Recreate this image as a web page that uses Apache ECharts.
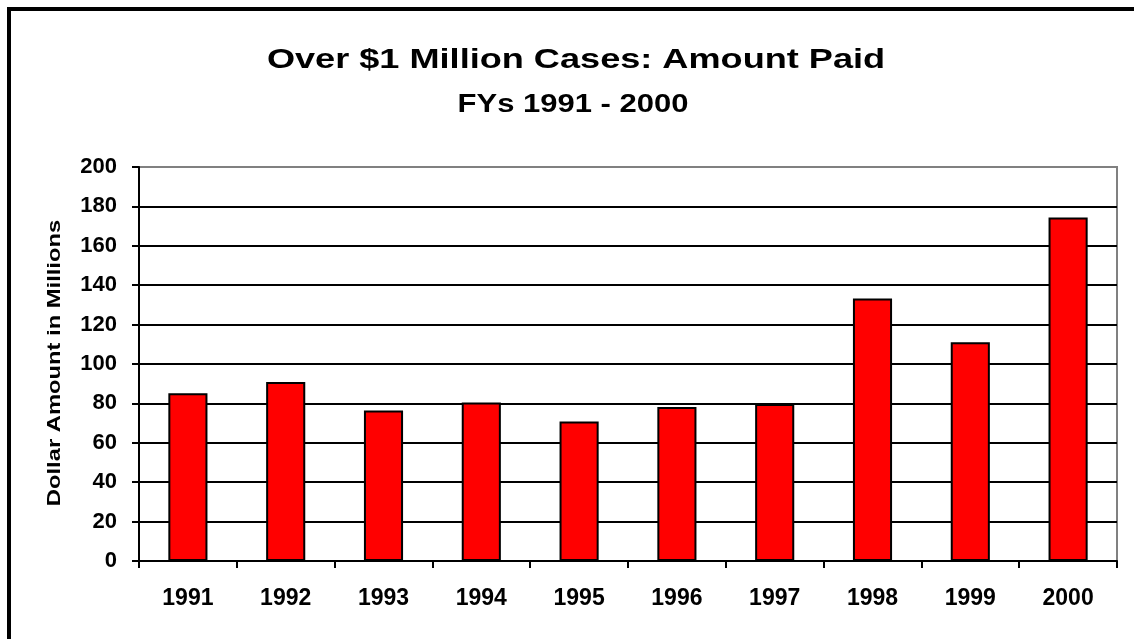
<!DOCTYPE html>
<html>
<head>
<meta charset="utf-8">
<script src="https://cdn.jsdelivr.net/npm/echarts@6/dist/echarts.min.js"></script>
<style>
html,body{margin:0;padding:0;background:#fff;}
#chart{width:1134px;height:639px;}
</style>
</head>
<body>
<div id="chart"></div>
<script>
var categories = ['1991','1992','1993','1994','1995','1996','1997','1998','1999','2000'];
var amountPaid = [85.2, 90.9, 76.4, 80.4, 70.8, 78.2, 79.7, 133.2, 111.0, 174.4];
var titleText = 'Over $1 Million Cases: Amount Paid';
var subtitleText = 'FYs 1991 - 2000';
var yAxisName = 'Dollar Amount in Millions';

var font = 'Arial, "Liberation Sans", sans-serif';
var chart = echarts.init(document.getElementById('chart'));
chart.setOption({
  animation: false,
  backgroundColor: '#fff',
  graphic: [{
    type: 'rect', z: 100, silent: true,
    shape: { x: 9, y: 9, width: 1200, height: 700 },
    style: { fill: 'none', stroke: '#000', lineWidth: 4 }
  }, {
    type: 'text', x: 576, y: 60, scaleX: 1.29, z: 100,
    style: { text: titleText, x: 0, y: 0, textAlign: 'center', textVerticalAlign: 'middle',
      font: 'bold 28px Arial, "Liberation Sans", sans-serif', fill: '#000' }
  }, {
    type: 'text', x: 573, y: 105, scaleX: 1.24, z: 100,
    style: { text: subtitleText, x: 0, y: 0, textAlign: 'center', textVerticalAlign: 'middle',
      font: 'bold 25px Arial, "Liberation Sans", sans-serif', fill: '#000' }
  }, {
    type: 'text', x: 55, y: 363, rotation: Math.PI / 2, scaleX: 1.25, z: 100,
    style: { text: yAxisName, x: 0, y: 0, textAlign: 'center', textVerticalAlign: 'middle',
      font: 'bold 19px Arial, "Liberation Sans", sans-serif', fill: '#000' }
  }],
  grid: {
    left: 139, top: 167, right: 17, bottom: 78,
    show: true, borderColor: '#808080', borderWidth: 2, backgroundColor: '#fff'
  },
  xAxis: {
    type: 'category', data: categories,
    axisLine: { lineStyle: { color: '#000', width: 2 } },
    axisTick: { show: true, alignWithLabel: false, length: 7, lineStyle: { color: '#000', width: 2 } },
    axisLabel: { margin: 26, fontFamily: font, fontWeight: 'bold', fontSize: 23, color: '#000' },
    splitLine: { show: false }
  },
  yAxis: {
    type: 'value', min: 0, max: 200, interval: 20,
    axisLine: { show: true, lineStyle: { color: '#000', width: 2 } },
    axisTick: { show: true, inside: false, length: 7, lineStyle: { color: '#000', width: 2 } },
    axisLabel: { margin: 22, fontFamily: font, fontWeight: 'bold', fontSize: 22, color: '#000' },
    splitLine: { show: true, showMinLine: false, showMaxLine: false, lineStyle: { color: '#000', width: 2 } }
  },
  series: [{
    type: 'bar', data: amountPaid, barWidth: '40%',
    itemStyle: { color: '#ff0000', borderColor: '#000', borderWidth: 2 }
  }]
});
</script>
</body>
</html>
